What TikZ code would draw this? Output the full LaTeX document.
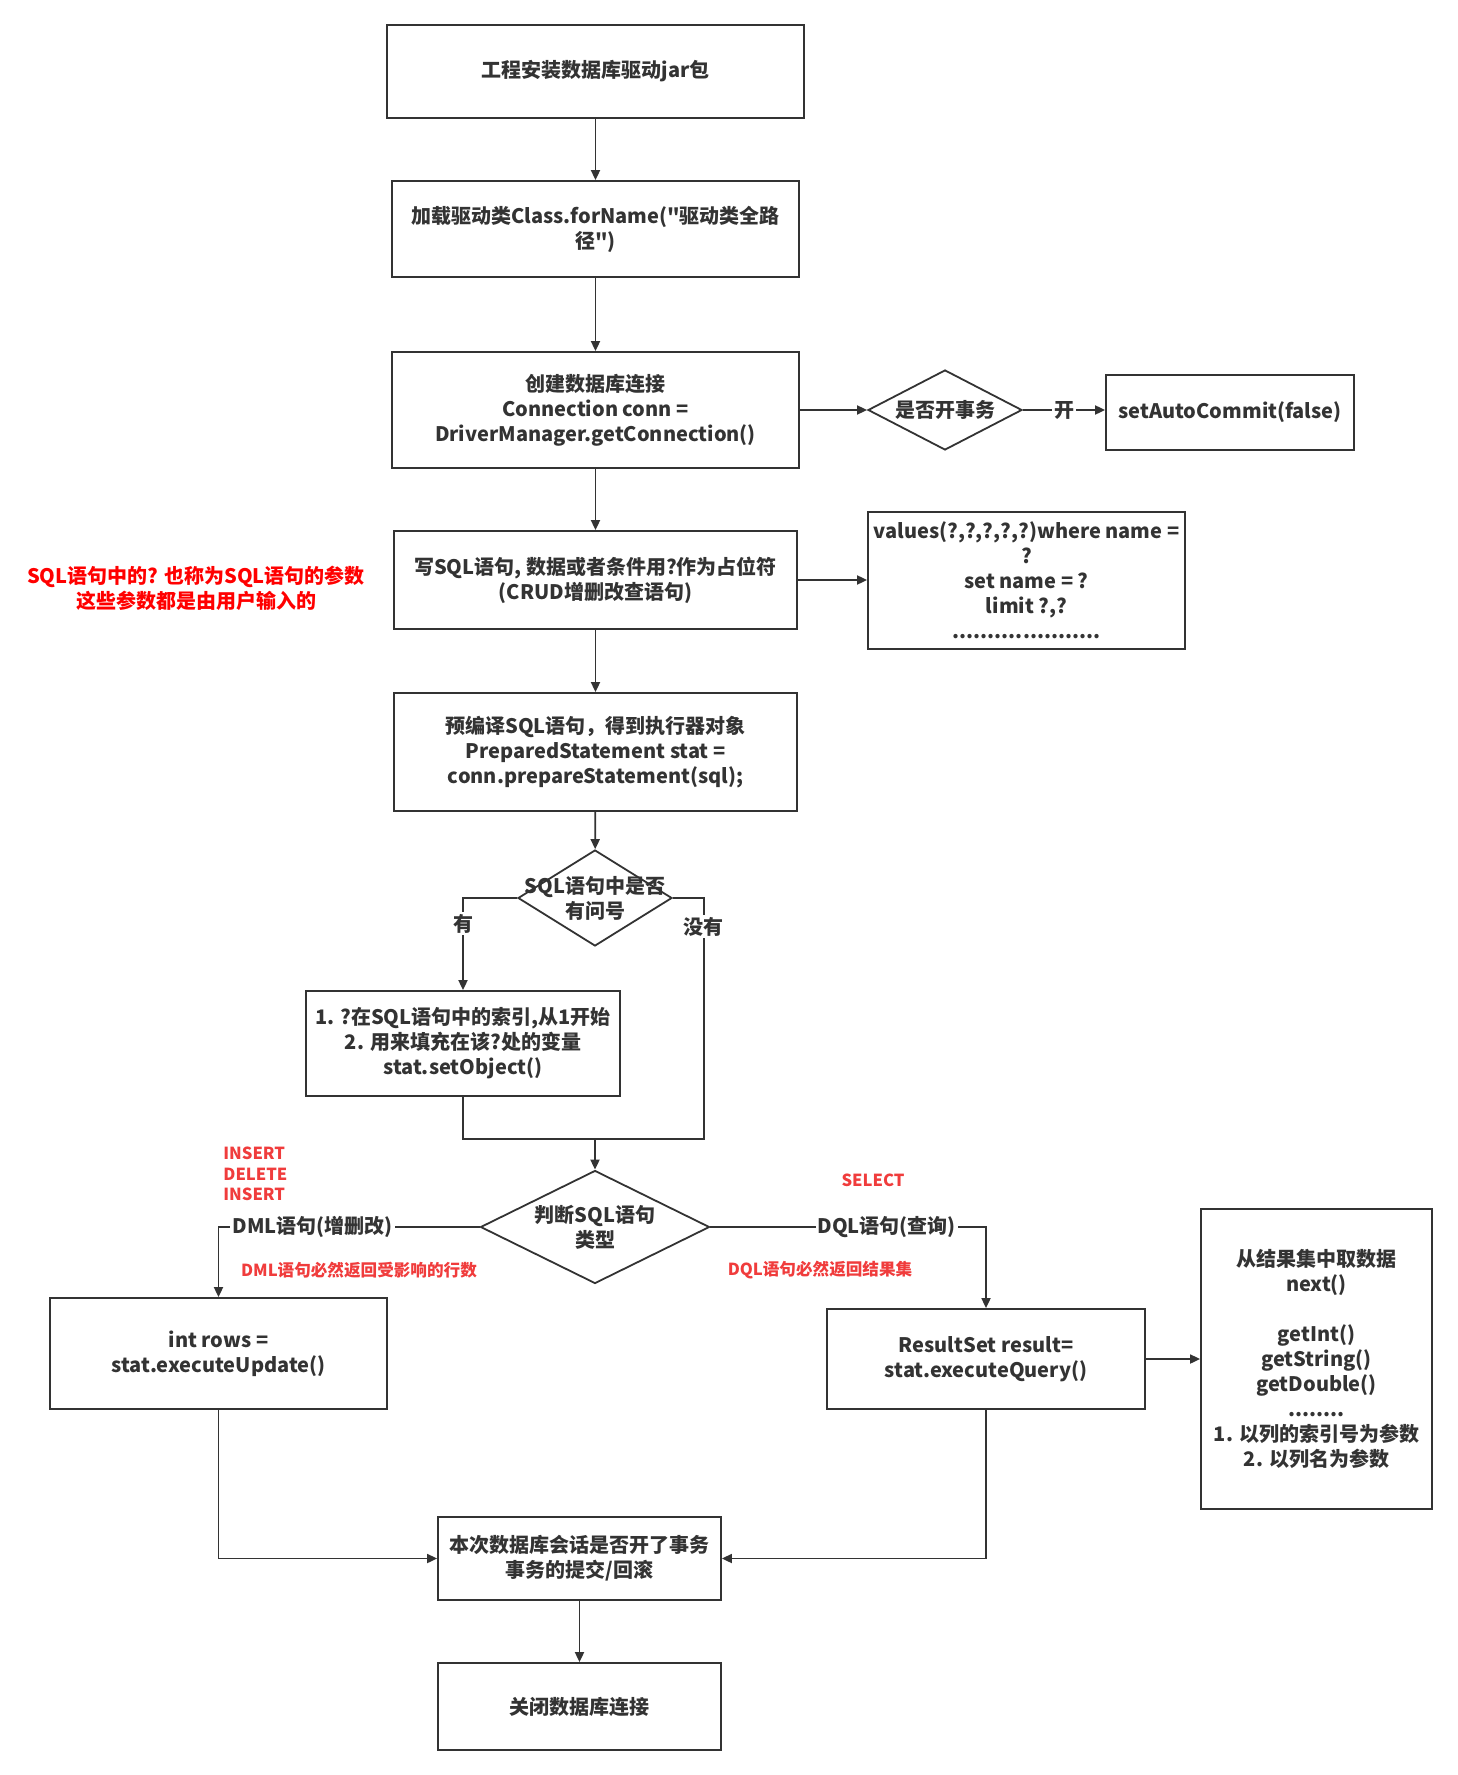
\documentclass[tikz,border=0pt]{standalone}
\usepackage{fontspec}
\setmainfont{Noto Sans CJK SC}
\usetikzlibrary{arrows.meta,shapes.geometric}

\definecolor{grigio}{RGB}{51,51,51}
\definecolor{rosso}{RGB}{255,0,0}
\definecolor{rossoch}{RGB}{240,60,60}

\begin{document}
\begin{tikzpicture}[
  x=0.5pt, y=-0.5pt,
  font=\fontsize{10}{12.5}\selectfont\bfseries,
  misura/.style 2 args={minimum width=#1*0.5pt, minimum height=#2*0.5pt},
  casella/.style={draw=grigio, line width=0.9pt, text=grigio, align=center, inner sep=0pt},
  rombo/.style={draw=grigio, line width=0.9pt, diamond, inner sep=0pt},
  testo/.style={text=grigio, align=center, inner sep=0pt},
  linea/.style={draw=grigio, line width=0.9pt},
  freccia/.style={linea, -{Triangle[length=5pt,width=4.5pt]}},
  etich/.style={fill=white, text=grigio, inner sep=1pt},
  nota/.style={text=rossoch, font=\fontsize{8.3}{10.3}\selectfont\bfseries, inner sep=0pt}
]

\fill[white] (0,0) rectangle (1457,1775);
\useasboundingbox (0,0) rectangle (1457,1775);

%--------------------------------------------------------------
% Colonna principale
%--------------------------------------------------------------
\node[casella, misura={417}{93}] (b1) at (595.5,71.5) {工程安装数据库驱动jar包};
\node[casella, misura={407}{96}] (b2) at (595.5,229)
  {加载驱动类Class.forName(\textquotedbl 驱动类全路\\径\textquotedbl)};
\node[casella, misura={407}{116}] (b3) at (595.5,410)
  {创建数据库连接\\Connection conn =\\DriverManager.getConnection()};
\node[casella, misura={403}{98}] (b4) at (595.5,580)
  {写SQL语句, 数据或者条件用?作为占位符\\(CRUD增删改查语句)};
\node[casella, misura={403}{118}] (b5) at (595.5,752)
  {预编译SQL语句，得到执行器对象\\PreparedStatement stat =\\conn.prepareStatement(sql);};

%--------------------------------------------------------------
% Rami laterali in alto
%--------------------------------------------------------------
\node[rombo, misura={154}{80}] (d1) at (945,410) {};
\node[testo] at (d1) {是否开事务};
\node[casella, misura={248}{75}] (sac) at (1230,412.5) {setAutoCommit(false)};
\node[casella, misura={317}{137}] (val) at (1026.5,580.5)
  {values(?,?,?,?,?)where name =\\?\\set name = ?\\limit ?,?\\.....................};
\node[text=rosso, align=center, inner sep=0pt] (nota1) at (196,588)
  {SQL语句中的? 也称为SQL语句的参数\\这些参数都是由用户输入的};

%--------------------------------------------------------------
% Segnaposto e tipo di istruzione
%--------------------------------------------------------------
\node[rombo, misura={154}{96}] (d2) at (595,898) {};
\node[testo] at (d2) {SQL语句中是否\\有问号};
\node[casella, misura={314}{105}] (b6) at (463,1043.5)
  {1. ?在SQL语句中的索引,从1开始\\2. 用来填充在该?处的变量\\stat.setObject()};
\coordinate (giunz) at (595,1139);
\node[rombo, misura={229}{113}] (d3) at (595,1227) {};
\node[testo] at (d3) {判断SQL语句\\类型};

\node[casella, misura={337}{111}] (b7) at (218.5,1353.5) {int rows =\\stat.executeUpdate()};
\node[casella, misura={318}{100}] (b8) at (986,1359) {ResultSet result=\\stat.executeQuery()};
\node[casella, misura={231}{300}] (b9) at (1316.5,1359)
  {从结果集中取数据\\next()\\[12.5pt]getInt()\\getString()\\getDouble()\\........\\1. 以列的索引号为参数\\2. 以列名为参数};

\node[nota, align=left, anchor=west] (ins) at (223,1174) {INSERT\\DELETE\\INSERT};
\node[nota] (sel) at (873,1180) {SELECT};
\node[nota] (dml) at (359,1270) {DML语句必然返回受影响的行数};
\node[nota] (dql) at (820,1270) {DQL语句必然返回结果集};

%--------------------------------------------------------------
% Chiusura
%--------------------------------------------------------------
\node[casella, misura={283}{83}] (b10) at (579.5,1558.5)
  {本次数据库会话是否开了事务\\事务的提交/回滚};
\node[casella, misura={283}{87}] (b11) at (579.5,1706.5) {关闭数据库连接};

%--------------------------------------------------------------
% Collegamenti
%--------------------------------------------------------------
\draw[freccia] (b1) -- (b2);
\draw[freccia] (b2) -- (b3);
\draw[freccia] (b3) -- (d1);
\draw[freccia] (d1.east) -- node[etich]{开} (sac.west |- d1.east);
\draw[freccia] (b3) -- (b4);
\draw[freccia] (b4.east) -- (val.west |- b4.east);
\draw[freccia] (b4) -- (b5);
\draw[freccia] (b5) -- (d2);
\draw[freccia] (d2.west) -| node[etich, pos=0.64]{有} (b6.north);
\draw[linea] (d2.east) -- ++(31,0) |- node[etich, pos=0.06]{没有} (giunz);
\draw[linea] (b6.south) |- (giunz);
\draw[freccia] (giunz) -- (d3.north);
\draw[freccia] (d3.west) -| node[etich, pos=0.32]{DML语句(增删改)} (b7.north);
\draw[freccia] (d3.east) -| node[etich, pos=0.32]{DQL语句(查询)} (b8.north);
\draw[freccia] (b8) -- (b9);
\draw[freccia] (b7.south) |- (b10.west);
\draw[freccia] (b8.south) |- (b10.east);
\draw[freccia] (b10) -- (b11);

\end{tikzpicture}
\end{document}
